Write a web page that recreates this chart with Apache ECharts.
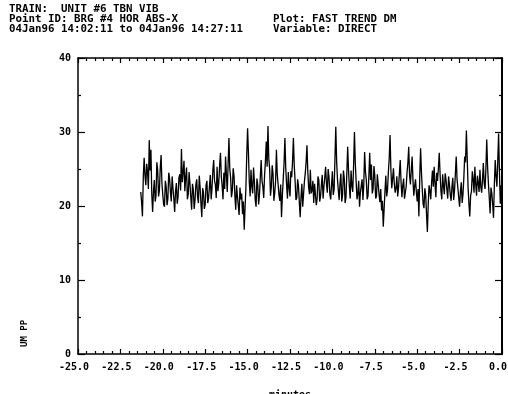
<!DOCTYPE html>
<html>
<head>
<meta charset="utf-8">
<script src="https://cdn.jsdelivr.net/npm/echarts@6/dist/echarts.min.js"></script>
<style>
  html, body { margin: 0; padding: 0; background: #fff; }
  #chart { width: 508px; height: 394px; }
</style>
</head>
<body>
<div id="chart"></div>
<script>
// header lines
const headerLeft = ['TRAIN:  UNIT #6 TBN VIB', 'Point ID: BRG #4 HOR ABS-X', '04Jan96 14:02:11 to 04Jan96 14:27:11'];
const headerRight = ['Plot: FAST TREND DM', 'Variable: DIRECT'];

// trend samples, one every 0.05 minute starting at -21.3
const startMin = -21.3;
const stepMin = 0.05;
const umpp = [
  21.9, 20.5, 18.6, 23.9, 26.5, 24.1, 22.8, 25.7, 24.6, 22.3, 28.9, 24.8, 27.6, 21.6, 19.2, 22.0, 23.5, 20.6, 21.4, 25.9,
  24.8, 21.3, 22.1, 25.2, 26.9, 23.0, 21.5, 20.2, 19.9, 23.4, 22.6, 20.1, 21.0, 24.5, 23.7, 21.9, 20.6, 24.0, 22.4, 21.0,
  19.2, 22.0, 23.1, 20.3, 21.2, 23.8, 24.3, 22.1, 27.7, 23.2, 24.6, 26.1, 22.0, 23.9, 25.2, 20.9, 21.6, 24.6, 23.0, 21.2,
  19.5, 23.0, 22.2, 19.6, 20.8, 22.9, 23.6, 21.2, 20.4, 24.1, 22.5, 20.3, 18.5, 22.4, 21.8, 19.6, 20.2, 22.8, 23.4, 20.4,
  21.1, 22.6, 24.2, 20.9, 22.3, 24.8, 26.2, 23.4, 22.9, 21.1, 25.3, 22.0, 23.1, 25.4, 27.2, 24.0, 22.7, 20.9, 24.5, 22.3,
  26.7, 24.3, 21.9, 25.6, 29.2, 25.0, 23.8, 21.2, 22.1, 25.1, 24.0, 21.4, 19.5, 22.8, 21.3, 20.1, 18.8, 22.5, 20.9, 21.7,
  18.9, 20.6, 16.8, 19.8, 22.4, 26.9, 30.5, 27.1, 23.2, 21.3, 24.9, 22.6, 21.7, 25.2, 23.3, 20.8, 19.9, 23.7, 22.8, 20.2,
  21.5, 23.9, 26.2, 23.4, 22.6, 21.1, 24.1, 26.0, 28.7, 25.3, 30.8, 26.4, 25.0, 21.4, 22.6, 25.5, 24.3, 20.7, 21.8, 23.3,
  27.6, 24.2, 22.9, 21.5, 20.7, 22.9, 18.5, 21.4, 23.6, 25.8, 29.2, 25.1, 22.8, 21.0, 24.6, 22.4, 21.3, 24.7, 23.9, 26.0,
  29.2, 25.5, 23.4, 20.8, 21.1, 23.6, 22.7, 20.5, 18.5, 21.2, 23.0, 19.9, 21.6, 23.3, 24.4, 25.9, 28.2, 24.6, 22.5, 21.6,
  24.9, 21.7, 22.1, 23.4, 20.4, 23.0, 22.8, 20.1, 21.0, 24.0, 23.5, 20.6, 21.3, 22.8, 24.2, 21.0, 22.6, 23.9, 25.3, 23.0,
  21.8, 25.0, 23.9, 21.6, 20.9, 22.9, 24.7, 21.5, 22.2, 26.3, 30.7, 26.0, 23.6, 22.1, 20.8, 23.1, 24.4, 20.6, 21.5, 24.8,
  23.7, 20.4, 21.2, 24.3, 28.0, 24.9, 22.6, 21.0, 24.8, 22.7, 21.9, 25.5, 30.0, 25.8, 23.3, 20.9, 21.6, 23.4, 19.9, 21.8,
  22.7, 23.6, 20.8, 22.8, 27.3, 24.6, 23.5, 20.9, 21.4, 24.0, 27.2, 23.5, 25.6, 21.7, 22.3, 25.4, 24.1, 21.0, 21.3, 24.3,
  22.9, 21.6, 20.5, 22.3, 19.4, 20.7, 17.2, 19.6, 22.0, 24.1, 21.3, 22.2, 24.6, 26.4, 29.6, 24.8, 22.4, 23.7, 25.1, 23.0,
  21.8, 22.4, 24.0, 21.3, 22.5, 24.4, 26.2, 23.1, 21.2, 22.8, 23.7, 21.0, 20.8, 22.6, 24.5, 25.8, 28.0, 24.2, 22.9, 24.8,
  26.7, 23.5, 21.4, 22.7, 23.6, 21.9, 20.6, 22.3, 18.6, 23.9, 27.8, 24.6, 22.2, 20.3, 19.7, 22.4, 21.5, 18.9, 16.5, 20.2,
  22.8, 22.1, 20.9, 23.2, 24.8, 22.6, 25.3, 23.0, 21.2, 24.5, 23.4, 25.1, 27.2, 24.3, 22.0, 20.9, 24.3, 22.7, 21.6, 24.4,
  23.5, 22.2, 21.0, 24.0, 22.9, 21.5, 20.7, 22.6, 23.8, 20.8, 22.1, 24.3, 26.7, 23.6, 22.4, 21.1, 19.9, 22.0, 23.2, 20.4,
  21.6, 23.8, 26.7, 25.9, 30.2, 26.4, 22.5, 20.3, 18.6, 21.4, 22.0, 24.7, 23.6, 21.8, 25.3, 22.9, 21.4, 24.1, 23.1, 21.9,
  24.9, 22.6, 21.8, 23.5, 25.8, 23.1, 22.3, 24.9, 29.0, 25.3, 23.0, 21.1, 19.0, 22.5, 21.7, 20.2, 18.4, 22.9, 26.2, 24.0,
  22.6, 26.1, 29.8, 24.4, 20.3, 22.8, 21.0
];

const FONT = 'DejaVu Sans Mono';
const points = umpp.map((v, i) => [+(startMin + i * stepMin).toFixed(2), v]);

const chart = echarts.init(document.getElementById('chart'));

const tickStyle = { color: '#000', width: 1.2 };

option = {
  animation: false,
  backgroundColor: '#fff',
  graphic: [
    ...headerLeft.map((t, i) => ({
      type: 'text', left: 9, top: 4 + i * 10,
      style: { text: t, font: 'bold 10.8px ' + FONT, fill: '#000' }
    })),
    ...headerRight.map((t, i) => ({
      type: 'text', left: 273, top: 14 + i * 10,
      style: { text: t, font: 'bold 10.8px ' + FONT, fill: '#000' }
    })),
    {
      type: 'text', x: 20, y: 347, rotation: Math.PI / 2,
      style: { text: 'UM PP', font: 'bold 9px ' + FONT, fill: '#000' }
    }
  ],
  grid: { left: 78, right: 6, top: 58, bottom: 40, outerBoundsMode: 'none' },
  xAxis: [
    {
      type: 'value', min: -25, max: 0, interval: 2.5,
      name: 'minutes', nameLocation: 'middle', nameGap: 36,
      nameTextStyle: { fontFamily: FONT, fontWeight: 'bold', fontSize: 10, color: '#000' },
      axisLine: { onZero: false, lineStyle: { color: '#000', width: 1.5 } },
      axisTick: { inside: true, length: 5, lineStyle: tickStyle },
      minorTick: { show: true, splitNumber: 5, length: 3, lineStyle: tickStyle },
      splitLine: { show: false },
      axisLabel: {
        fontFamily: FONT, fontWeight: 'bold', fontSize: 10, color: '#000', margin: 8,
        padding: [0, 8, 0, 0],
        formatter: (v) => v.toFixed(1)
      }
    },
    {
      type: 'value', min: -25, max: 0, interval: 2.5, position: 'top',
      axisLine: { show: true, onZero: false, lineStyle: { color: '#000', width: 1.5 } },
      axisTick: { inside: true, length: 5, lineStyle: tickStyle },
      minorTick: { show: true, splitNumber: 5, length: 3, lineStyle: tickStyle },
      splitLine: { show: false },
      axisLabel: { show: false }
    }
  ],
  yAxis: [
    {
      type: 'value', min: 0, max: 40, interval: 10,
      axisLine: { show: true, onZero: false, lineStyle: { color: '#000', width: 1.5 } },
      axisTick: { inside: true, length: 7, lineStyle: tickStyle },
      minorTick: { show: true, splitNumber: 2, length: 3, lineStyle: tickStyle },
      splitLine: { show: false },
      axisLabel: { fontFamily: FONT, fontWeight: 'bold', fontSize: 10, color: '#000', margin: 7 }
    },
    {
      type: 'value', min: 0, max: 40, interval: 10, position: 'right',
      axisLine: { show: true, onZero: false, lineStyle: { color: '#000', width: 2 } },
      axisTick: { inside: true, length: 7, lineStyle: tickStyle },
      minorTick: { show: true, splitNumber: 2, length: 3, lineStyle: tickStyle },
      splitLine: { show: false },
      axisLabel: { show: false }
    }
  ],
  series: [
    {
      type: 'line',
      data: points,
      showSymbol: false,
      lineStyle: { color: '#000', width: 1.3 },
      silent: true
    }
  ]
};

chart.setOption(option);
</script>
</body>
</html>
